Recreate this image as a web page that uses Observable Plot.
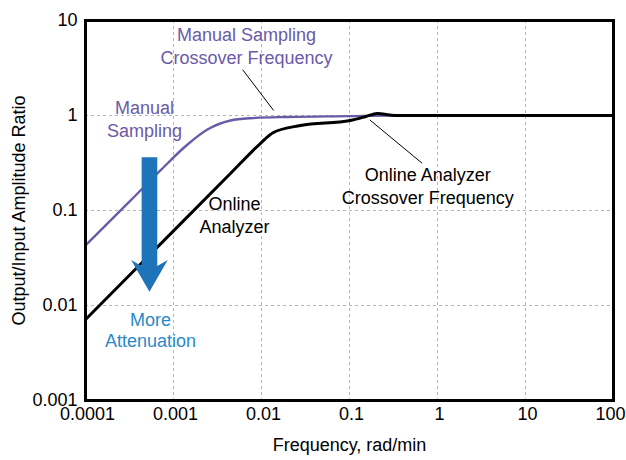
<!DOCTYPE html>
<html>
<head>
<meta charset="utf-8">
<script src="https://cdn.jsdelivr.net/npm/d3@7"></script>
<script src="https://cdn.jsdelivr.net/npm/@observablehq/plot@0.6"></script>
<style>
  html, body { margin: 0; padding: 0; background: white; }
</style>
</head>
<body>
<script>
// Axis ticks
const xTicks = [1e-4, 1e-3, 1e-2, 1e-1, 1, 10, 100];
const xTickLabels = ["0.0001", "0.001", "0.01", "0.1", "1", "10", "100"];
const yTicks = [1e-3, 1e-2, 1e-1, 1, 10];
const yTickLabels = ["0.001", "0.01", "0.1", "1", "10"];
const xGrid = [1e-3, 1e-2, 1e-1, 1, 10];
const yGrid = [1e-2, 1e-1, 1];

// Manual sampling curve
const manualFreq  = [1e-4, 3.24e-4, 7.1e-4, 1.36e-3, 2.43e-3, 4.44e-3, 7.5e-3, 0.02, 0.1, 0.3, 1, 10, 100];
const manualRatio = [0.043, 0.127, 0.264, 0.472, 0.712, 0.886, 0.937, 0.965, 0.985, 1.0, 1.0, 1.0, 1.0];

// Online analyzer curve
const onlineFreq  = [1e-4, 3.24e-4, 1.2e-3, 4.44e-3, 9.7e-3, 0.01365, 0.0277, 0.102, 0.151, 0.207, 0.33, 1, 10, 100];
const onlineRatio = [0.0071, 0.0213, 0.0724, 0.245, 0.507, 0.662, 0.785, 0.886, 0.97, 1.05, 1.0, 1.0, 1.0, 1.0];

// Annotations
const purpleText = ["Manual Sampling", "Crossover Frequency", "Manual", "Sampling"];
const purpleX = [6.74e-3, 6.74e-3, 4.68e-4, 4.68e-4];
const purpleY = [6.95, 3.98, 1.185, 0.679];

const blackText = ["Online", "Analyzer", "Online Analyzer", "Crossover Frequency"];
const blackX = [4.92e-3, 4.92e-3, 0.776, 0.776];
const blackY = [0.117, 0.0668, 0.234, 0.134];

const blueText = ["More", "Attenuation"];
const blueX = [5.47e-4, 5.47e-4];
const blueY = [0.00703, 0.00418];

// Leader lines
const leaderX1 = [6.11e-3, 0.1695];
const leaderY1 = [3.03, 0.901];
const leaderX2 = [0.01375, 0.667];
const leaderY2 = [1.129, 0.315];

// Arrow (data coordinates)
const arrowX = 5.4e-4;
const arrowTop = 0.36;
const arrowHeadBase = 0.0298;
const arrowTip = 0.0138;

const purple = "#6b5aa7";
const arrowBlue = "#1f73b8";
const textBlue = "#2a8ac8";

const manual = manualFreq.map((f, i) => ({f, r: manualRatio[i]}));
const online = onlineFreq.map((f, i) => ({f, r: onlineRatio[i]}));
const mkText = (t, xs, ys) => t.map((text, i) => ({text, x: xs[i], y: ys[i]}));
const leaders = leaderX1.map((x1, i) => ({x1, y1: leaderY1[i], x2: leaderX2[i], y2: leaderY2[i]}));
const xTickData = xTicks.map((v, i) => ({v, label: xTickLabels[i]}));
const xTickMain = xTickData.slice(0, -1);
const xTickLast = xTickData.slice(-1);

const arrowMark = (index, scales) => {
  const cx = scales.x(arrowX);
  const yt = scales.y(arrowTop);
  const yb = scales.y(arrowHeadBase);
  const ytip = scales.y(arrowTip);
  const hw = 7.8, hh = 18.3, notch = 6;
  const p = d3.path();
  p.moveTo(cx - hw, yt);
  p.lineTo(cx + hw, yt);
  p.lineTo(cx + hw, yb + notch);
  p.lineTo(cx + hh, yb);
  p.lineTo(cx, ytip);
  p.lineTo(cx - hh, yb);
  p.lineTo(cx - hw, yb + notch);
  p.closePath();
  return d3.create("svg:path").attr("d", p.toString()).attr("fill", arrowBlue).node();
};

const fontFamily = "'Liberation Sans', Arial, Helvetica, sans-serif";

const chart = Plot.plot({
  width: 626,
  height: 460,
  marginLeft: 85,
  marginRight: 13,
  marginTop: 20,
  marginBottom: 60,
  style: {fontFamily, fontSize: "18px", background: "white", color: "black"},
  x: {type: "log", domain: [1e-4, 100], axis: null},
  y: {
    type: "log", domain: [1e-3, 10], ticks: yTicks,
    tickFormat: d => yTickLabels[yTicks.indexOf(d)],
    tickSize: 0, tickPadding: 8, label: null
  },
  marks: [
    Plot.ruleX(xGrid, {stroke: "#b5b5b5", strokeWidth: 1, strokeDasharray: "3,3"}),
    Plot.ruleY(yGrid, {stroke: "#b5b5b5", strokeWidth: 1, strokeDasharray: "3,3"}),
    Plot.line(manual, {x: "f", y: "r", stroke: purple, strokeWidth: 2.4, curve: "monotone-x"}),
    Plot.line(online, {x: "f", y: "r", stroke: "black", strokeWidth: 3, curve: "monotone-x"}),
    Plot.frame({stroke: "black", strokeWidth: 3}),
    arrowMark,
    Plot.link(leaders, {x1: "x1", y1: "y1", x2: "x2", y2: "y2", stroke: "black", strokeWidth: 1}),
    // x tick labels
    Plot.text(xTickMain, {x: "v", frameAnchor: "bottom", dy: 19, dx: 2, text: "label", fill: "black"}),
    Plot.text(xTickLast, {x: "v", frameAnchor: "bottom", dy: 19, dx: 12, textAnchor: "end", text: "label", fill: "black"}),
    Plot.text(mkText(purpleText, purpleX, purpleY), {x: "x", y: "y", text: "text", fill: purple}),
    Plot.text(mkText(blackText, blackX, blackY), {x: "x", y: "y", text: "text", fill: "black"}),
    Plot.text(mkText(blueText, blueX, blueY), {x: "x", y: "y", text: "text", fill: textBlue}),
    Plot.text(["Frequency, rad/min"], {frameAnchor: "bottom", dy: 50, text: d => d, fill: "black"}),
    Plot.text(["Output/Input Amplitude Ratio"], {frameAnchor: "left", dx: -66, rotate: -90, textAnchor: "middle", text: d => d, fill: "black"})
  ]
});

document.body.appendChild(chart);
</script>
</body>
</html>
